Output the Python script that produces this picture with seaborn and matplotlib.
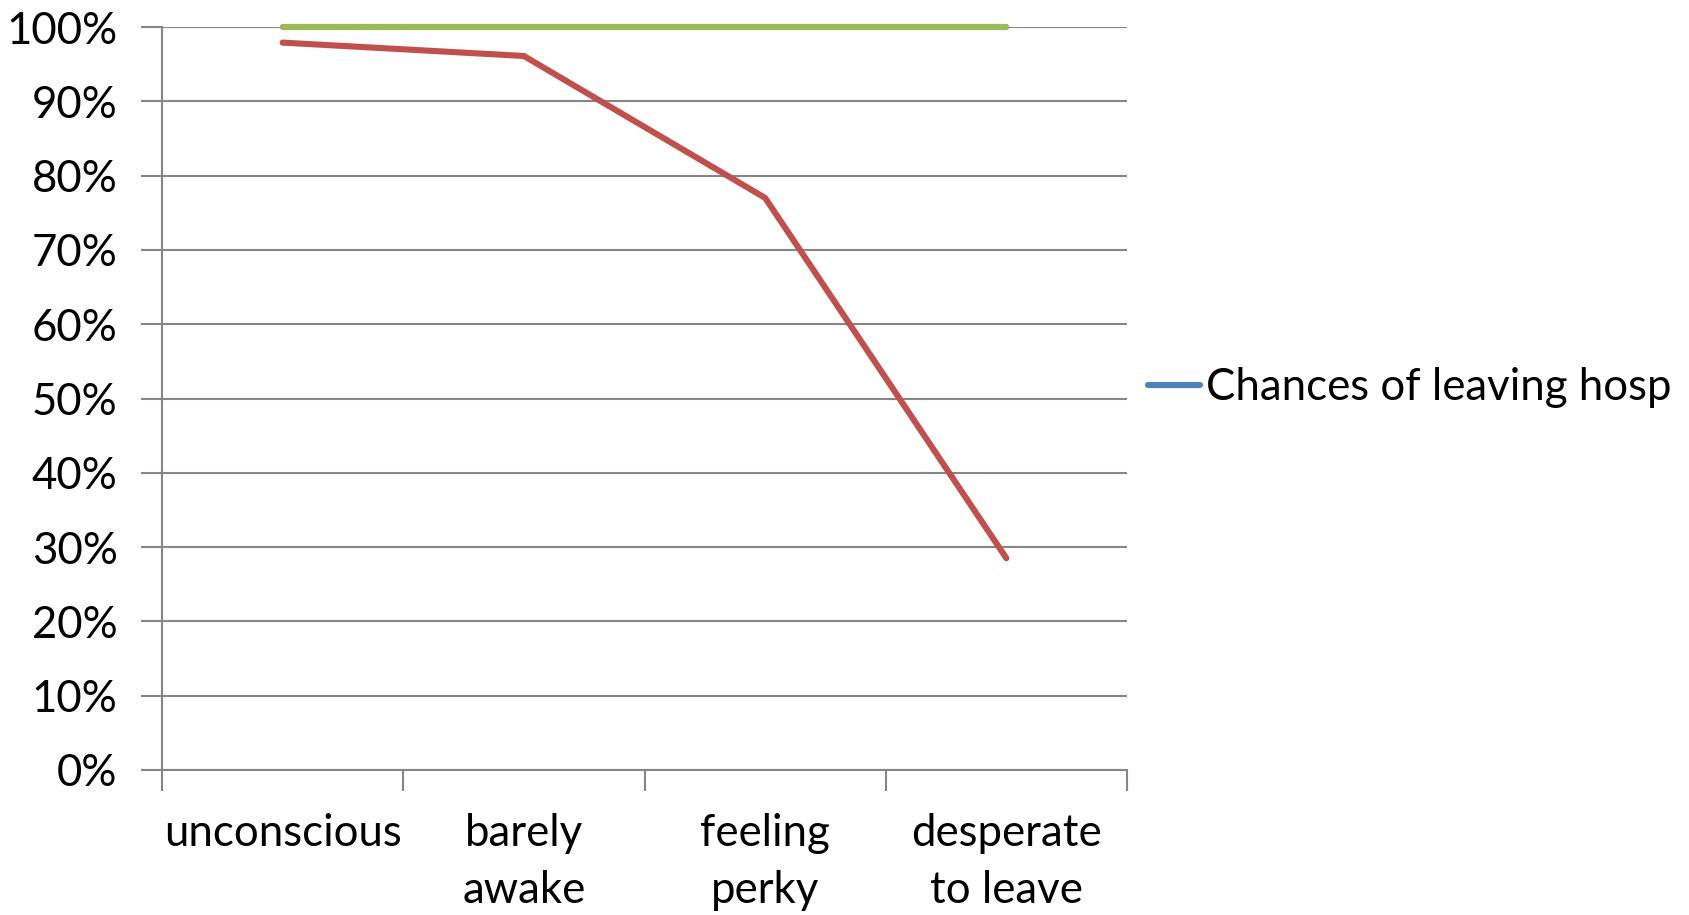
import matplotlib
matplotlib.use("Agg")
import matplotlib.pyplot as plt
import seaborn as sns
import pandas as pd
from matplotlib.ticker import FuncFormatter, FixedLocator
from matplotlib.lines import Line2D

categories = ["unconscious", "barely\nawake", "feeling\nperky", "desperate\nto leave"]
blue_values = [1.00, 1.00, 1.00, 1.00]
green_values = [1.00, 1.00, 1.00, 1.00]
red_values = [0.979, 0.961, 0.770, 0.285]
legend_label = "Chances of leaving hosp"
yticks = [0, 0.1, 0.2, 0.3, 0.4, 0.5, 0.6, 0.7, 0.8, 0.9, 1.0]

sns.set_theme(style="white")
plt.rcParams['font.family'] = ['Lato', 'DejaVu Sans']
plt.rcParams['text.color'] = 'black'
plt.rcParams['xtick.labelcolor'] = 'black'
plt.rcParams['ytick.labelcolor'] = 'black'

df = pd.DataFrame({
    "x": list(range(len(categories))) * 3,
    "value": blue_values + green_values + red_values,
    "series": ["blue"] * 4 + ["green"] * 4 + ["red"] * 4,
})
palette = {"blue": "#4F81BD", "green": "#9BBB59", "red": "#C0504D"}
FS = 31.5

fig = plt.figure(figsize=(16.9, 9.15), dpi=100)
ax = fig.add_axes([162 / 1690, 1 - 770 / 915, (1127 - 162) / 1690, (770 - 27) / 915])

for s in ["blue", "green", "red"]:
    sub = df[df.series == s]
    sns.lineplot(data=sub, x="x", y="value", color=palette[s], lw=4.4, ax=ax,
                 legend=False, solid_capstyle="round", solid_joinstyle="miter", zorder=3, clip_on=False)

ax.set_xlim(-0.5, len(categories) - 0.5)
ax.set_ylim(0, 1.0)
ax.yaxis.set_major_locator(FixedLocator(yticks))
ax.yaxis.set_major_formatter(FuncFormatter(lambda v, p: f"{int(round(v * 100))}%"))
ax.set_xticks([i - 0.5 for i in range(len(categories) + 1)])
ax.set_xticklabels([""] * (len(categories) + 1))
ax.set_xticks(range(len(categories)), minor=True)
ax.set_xticklabels(categories, minor=True, fontsize=FS, linespacing=1.48)
ax.tick_params(axis="x", which="minor", length=0, pad=31, labelcolor="black")
ax.tick_params(axis="x", which="major", length=15, width=1.5, color="#868686", direction="out", bottom=True)
ax.tick_params(axis="y", length=15, width=1.5, color="#868686", direction="out", left=True, labelsize=FS, pad=17,
               labelcolor="black")
for lbl in ax.get_xticklabels(minor=True):
    lbl.set_verticalalignment("top")

ax.grid(axis="y", color="#868686", lw=1.5)
ax.grid(axis="x", visible=False)
ax.set_axisbelow(True)
for sp in ["top", "right"]:
    ax.spines[sp].set_visible(False)
for sp in ["left", "bottom"]:
    ax.spines[sp].set_color("#868686")
    ax.spines[sp].set_linewidth(1.5)
ax.set_xlabel("")
ax.set_ylabel("")

handle = Line2D([0], [0], color=palette["blue"], lw=4.4, solid_capstyle="round")
leg = fig.legend([handle], [legend_label], loc="center left", bbox_to_anchor=(1148 / 1690, 1 - 388 / 915),
                 frameon=False, fontsize=FS, handlelength=1.2, handletextpad=0.12, borderaxespad=0, borderpad=0,
                 labelcolor="black")

fig.savefig("out.png", dpi=100)
